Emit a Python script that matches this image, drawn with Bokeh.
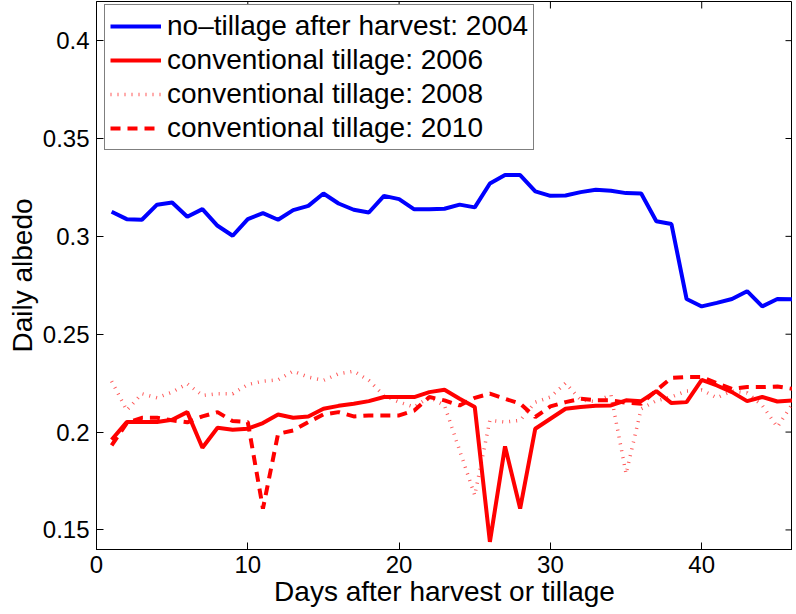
from bokeh.plotting import figure
from bokeh.models import Range1d, FixedTicker, Legend, LegendItem
from bokeh.embed import file_html
from bokeh.resources import INLINE

days = list(range(1, 47))

no_till_2004 = [0.3126, 0.3088, 0.3085, 0.3162, 0.3173, 0.3100, 0.3139, 0.3054, 0.3003, 0.3088,
                0.3119, 0.3085, 0.3134, 0.3156, 0.3219, 0.3168, 0.3136, 0.3122, 0.3207, 0.3190,
                0.3138, 0.3138, 0.3141, 0.3162, 0.3148, 0.3270, 0.3313, 0.3313, 0.3230, 0.3207,
                0.3209, 0.3226, 0.3238, 0.3233, 0.3221, 0.3219, 0.3077, 0.3063, 0.2680, 0.2642,
                0.2660, 0.2680, 0.2720, 0.2642, 0.2680, 0.2678]

conv_2006 = [0.1961, 0.2051, 0.2051, 0.2051, 0.2063, 0.2102, 0.1920, 0.2022, 0.2012, 0.2017,
             0.2046, 0.2090, 0.2073, 0.2080, 0.2119, 0.2134, 0.2145, 0.2158, 0.2179, 0.2179,
             0.2179, 0.2204, 0.2216, 0.2170, 0.2128, 0.1439, 0.1927, 0.1609, 0.2017, 0.2068,
             0.2119, 0.2128, 0.2134, 0.2136, 0.2162, 0.2158, 0.2209, 0.2148, 0.2153, 0.2267,
             0.2238, 0.2204, 0.2158, 0.2179, 0.2156, 0.2162]

conv_2008 = [0.2260, 0.2111, 0.2196, 0.2175, 0.2204, 0.2247, 0.2187, 0.2196, 0.2196, 0.2243,
             0.2260, 0.2267, 0.2311, 0.2281, 0.2264, 0.2298, 0.2311, 0.2264, 0.2187, 0.2153,
             0.2128, 0.2179, 0.2136, 0.1906, 0.1677, 0.2060, 0.2051, 0.2060, 0.2153, 0.2179,
             0.2250, 0.2165, 0.2155, 0.2190, 0.1787, 0.2119, 0.2160, 0.2180, 0.2210, 0.2215,
             0.2175, 0.2210, 0.2200, 0.2136, 0.2026, 0.2145]

conv_2010 = [0.1932, 0.2046, 0.2073, 0.2073, 0.2060, 0.2050, 0.2080, 0.2102, 0.2056, 0.2051,
             0.1609, 0.1991, 0.2008, 0.2051, 0.2090, 0.2102, 0.2080, 0.2085, 0.2085, 0.2085,
             0.2110, 0.2179, 0.2162, 0.2136, 0.2175, 0.2196, 0.2170, 0.2145, 0.2077, 0.2131,
             0.2153, 0.2170, 0.2162, 0.2162, 0.2150, 0.2145, 0.2213, 0.2277, 0.2281, 0.2281,
             0.2250, 0.2221, 0.2230, 0.2230, 0.2233, 0.2221]

series_labels = ["no\u2013tillage after harvest: 2004", "conventional tillage: 2006",
                 "conventional tillage: 2008", "conventional tillage: 2010"]

x_ticks = [0, 10, 20, 30, 40]
x_tick_labels = ["0", "10", "20", "30", "40"]
y_ticks = [0.15, 0.2, 0.25, 0.3, 0.35, 0.4]
y_tick_labels = ["0.15", "0.2", "0.25", "0.3", "0.35", "0.4"]

FONT = "Liberation Sans"
X0, X1 = 0, 46
Y0, Y1 = 0.14, 0.42
FW, FH = 696, 548
TICK = 7

p = figure(frame_width=FW, frame_height=FH, output_backend="svg", toolbar_location=None,
           x_range=Range1d(X0, X1), y_range=Range1d(Y0, Y1),
           min_border_left=96, min_border_right=0, min_border_top=1, min_border_bottom=0)
p.grid.visible = False
p.outline_line_color = "black"
p.outline_line_alpha = 1.0
p.background_fill_color = "white"
p.border_fill_color = "white"

p.xaxis.ticker = FixedTicker(ticks=x_ticks)
p.xaxis.major_label_overrides = dict(zip(x_ticks, x_tick_labels))
p.yaxis.ticker = FixedTicker(ticks=y_ticks)
p.yaxis.major_label_overrides = dict(zip(y_ticks, y_tick_labels))

for ax in (p.xaxis[0], p.yaxis[0]):
    ax.major_tick_in = TICK
    ax.major_tick_out = 0
    ax.minor_tick_line_color = None
    ax.major_label_text_font = FONT
    ax.major_label_text_font_size = "24px"
    ax.major_label_text_color = "black"
    ax.axis_label_text_font = FONT
    ax.axis_label_text_font_size = "28px"
    ax.axis_label_text_font_style = "normal"
    ax.axis_label_text_color = "black"
    ax.axis_line_color = "black"
    ax.major_tick_line_color = "black"

p.xaxis.axis_label = "Days after harvest or tillage"
p.yaxis.axis_label = "Daily albedo"
p.xaxis.major_label_standoff = 6
p.xaxis.axis_label_standoff = 0
p.yaxis.major_label_standoff = 7
p.yaxis.axis_label_standoff = 2

# inward tick marks on the right and top edges of the box
dx = TICK * (X1 - X0) / FW
dy = TICK * (Y1 - Y0) / FH
p.segment(x0=[X1 - dx] * len(y_ticks), y0=y_ticks, x1=[X1] * len(y_ticks), y1=y_ticks,
          line_color="black", line_width=1)
p.segment(x0=x_ticks, y0=[Y1 - dy] * len(x_ticks), x1=x_ticks, y1=[Y1] * len(x_ticks),
          line_color="black", line_width=1)

r1 = p.line(days, no_till_2004, line_color="#0000ff", line_width=4)
r2 = p.line(days, conv_2006, line_color="#ff0000", line_width=4)
r3 = p.line(days, conv_2008, line_color="#ff0000", line_alpha=0.65, line_width=3.5,
            line_dash="1 6", line_cap="butt")
r4 = p.line(days, conv_2010, line_color="#ff0000", line_width=4, line_dash="10 7", line_cap="butt")

GH, SP, PAD = 32, 2, 5
legend_h = 4 * GH + 3 * SP + 2 * PAD
legend = Legend(items=[LegendItem(label=series_labels[0], renderers=[r1]),
                       LegendItem(label=series_labels[1], renderers=[r2]),
                       LegendItem(label=series_labels[2], renderers=[r3]),
                       LegendItem(label=series_labels[3], renderers=[r4])],
                location=(8, FH - legend_h - 5))
legend.label_text_font = FONT
legend.label_text_font_size = "28px"
legend.label_text_color = "black"
legend.glyph_width = 51
legend.glyph_height = GH
legend.label_height = GH
legend.label_standoff = 6
legend.spacing = SP
legend.padding = PAD
legend.margin = 0
legend.border_line_color = "black"
legend.border_line_width = 1
legend.background_fill_color = "white"
legend.background_fill_alpha = 1.0
p.add_layout(legend)

open("out.html", "w").write(file_html(p, INLINE))
